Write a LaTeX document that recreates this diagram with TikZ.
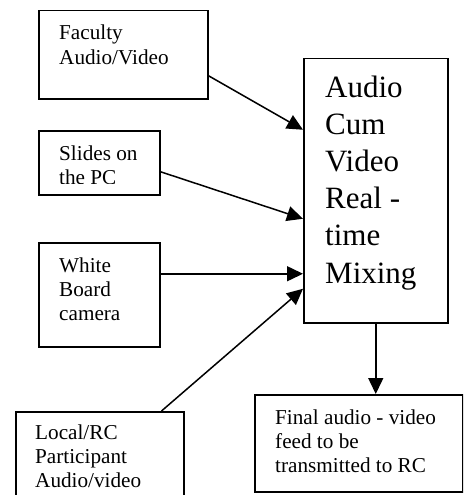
\documentclass[tikz,border=0pt]{standalone}
\usepackage{fontspec}
\setmainfont{Liberation Serif}
\usetikzlibrary{arrows.meta,calc}
\newcommand\txtlines[1]{\begin{tabular}[t]{@{}l@{}}#1\end{tabular}}
\begin{document}
\begin{tikzpicture}[x=1pt,y=-1pt,
  box/.style={draw,line width=1.5pt,rectangle,inner sep=0pt,anchor=north west},
  small/.style={font=\fontsize{21.2}{24.3}\selectfont,inner sep=0pt,anchor=base west},
  big/.style={font=\fontsize{31}{37.2}\selectfont,inner sep=0pt,anchor=base west},
  arr/.style={line width=1.5pt,-{Triangle[length=16pt,width=15pt]}}]
\useasboundingbox (0,0) rectangle (463,495);
\clip (0,0) rectangle (463,495);
% boxes
\node[box,minimum width=169pt,minimum height=88pt] (fac) at (38,10) {};
\node[box,minimum width=121pt,minimum height=64pt] (sli) at (38,130) {};
\node[box,minimum width=121pt,minimum height=104pt] (whi) at (38,242) {};
\node[box,minimum width=168pt,minimum height=110pt] (loc) at (15,411) {};
\node[box,minimum width=144pt,minimum height=264pt] (mix) at (303,58) {};
\node[box,minimum width=208pt,minimum height=97pt] (fin) at (254,394) {};
% texts
\node[small] (factxt) at (59,40) {\txtlines{Faculty\\Audio/Video}};
\begin{scope}
\clip (38,130) rectangle (159,183.5);
\node[small] (slitxt) at (59,160) {\txtlines{Slides on\\the PC}};
\end{scope}
\node[small] (whitxt) at (59,272) {\txtlines{White\\Board\\camera}};
\node[small] (loctxt) at (35,439) {\txtlines{Local/RC\\Participant\\Audio/video}};
\node[big] (mixtxt) at (325,97) {\txtlines{Audio\\Cum\\Video\\Real -\\time\\Mixing}};
\node[small] (fintxt) at (275,424) {\txtlines{Final audio - video\\feed to be\\transmitted to RC}};
% connectors
\draw[arr] ([yshift=-21pt]fac.east) -- ([yshift=61pt]mix.west);
\draw[arr] ([yshift=-9pt]sli.east) -- ([yshift=-28pt]mix.west);
\draw[arr] ([yshift=21pt]whi.east) -- ([yshift=-83pt]mix.west);
\draw[arr] ([xshift=-23pt]loc.north east) -- ([yshift=-98pt]mix.west);
\draw[arr] (mix.south) -- (mix.south |- fin.north);
\end{tikzpicture}
\end{document}
